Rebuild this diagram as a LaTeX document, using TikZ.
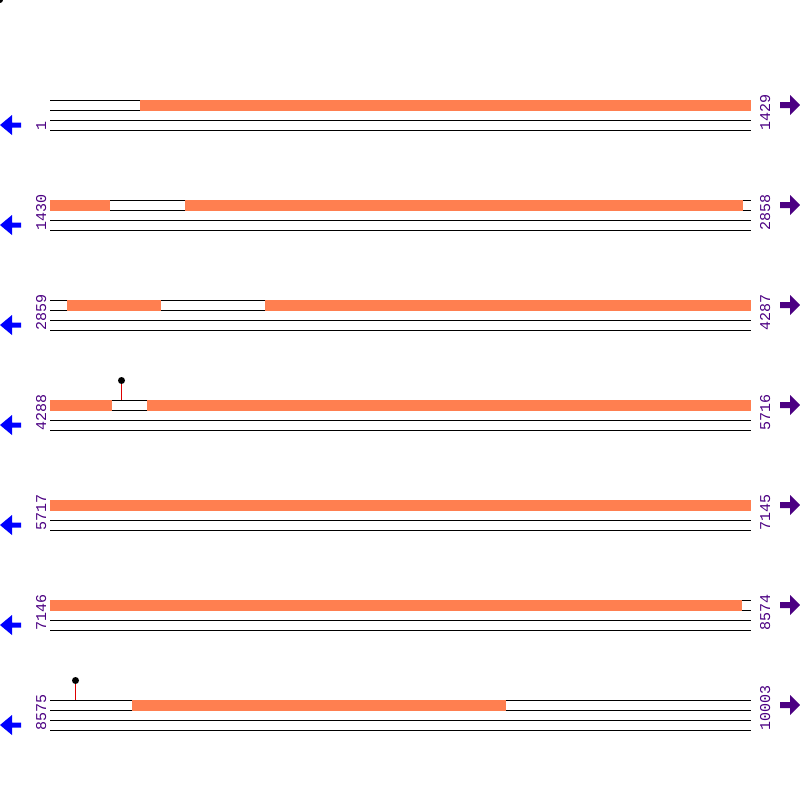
\documentclass[tikz,border=0pt]{standalone}
\usepackage{fontspec}
\setmonofont{Liberation Mono}
\definecolor{segorange}{HTML}{FF7F50}
\definecolor{labpurple}{HTML}{4B0082}
\definecolor{stemred}{HTML}{DD0000}
\tikzset{
  trackline/.style={draw=black, line width=1pt},
  orangeseg/.style={fill=segorange, draw=none},
  poslabel/.style={rotate=90, anchor=base west, inner sep=0pt, text=labpurple,
    font=\fontsize{15}{15}\selectfont\ttfamily},
  leftarrow/.style={fill=blue, draw=none},
  rightarrow/.style={fill=labpurple, draw=none},
  stemline/.style={draw=stemred, line width=1pt},
  lolli/.style={circle, fill=black, inner sep=0pt, minimum size=7pt},
}
\begin{document}
\begin{tikzpicture}[x=1pt,y=-1pt]
\useasboundingbox (0,0) rectangle (800,800);
\fill[black] (0,0) circle (3);
% rows: index / left label / right label
\foreach \r/\ll/\rl in {0/1/1429,1/1430/2858,2/2859/4287,3/4288/5716,4/5717/7145,5/7146/8574,6/8575/10003}{
  \pgfmathsetmacro{\y}{100+100*\r}
  \draw[trackline] (50,\y) -- (751,\y);
  \draw[trackline] (50,\y+10) -- (751,\y+10);
  \draw[trackline] (50,\y+20) -- (751,\y+20);
  \draw[trackline] (50,\y+30) -- (751,\y+30);
  \node[poslabel] (L\r) at (46,\y+31) {\ll};
  \node[poslabel] (R\r) at (770,\y+31) {\rl};
  \fill[leftarrow] (0,\y+25) -- (12,\y+15) -- (12,\y+22.5) -- (21,\y+22.5) -- (21,\y+27.5) -- (12,\y+27.5) -- (12,\y+35) -- cycle;
  \fill[rightarrow] (800,\y+5) -- (790,\y-5) -- (790,\y+2) -- (780,\y+2) -- (780,\y+8) -- (790,\y+8) -- (790,\y+15) -- cycle;
}
% orange segments
\fill[orangeseg] (140,99.5) rectangle (751,110.5);
\fill[orangeseg] (50,199.5) rectangle (110,210.5);
\fill[orangeseg] (185,199.5) rectangle (743,210.5);
\fill[orangeseg] (67,299.5) rectangle (161,310.5);
\fill[orangeseg] (265,299.5) rectangle (751,310.5);
\fill[orangeseg] (50,399.5) rectangle (112,410.5);
\fill[orangeseg] (147,399.5) rectangle (751,410.5);
\fill[orangeseg] (50,499.5) rectangle (751,510.5);
\fill[orangeseg] (50,599.5) rectangle (742,610.5);
\fill[orangeseg] (132,699.5) rectangle (506,710.5);
% lollipops
\coordinate (s1) at (121.5,400);
\node[lolli] (p1) at (121.5,380.5) {};
\draw[stemline] (p1) -- (s1);
\coordinate (s2) at (75.5,700);
\node[lolli] (p2) at (75.5,680.5) {};
\draw[stemline] (p2) -- (s2);
\end{tikzpicture}
\end{document}
